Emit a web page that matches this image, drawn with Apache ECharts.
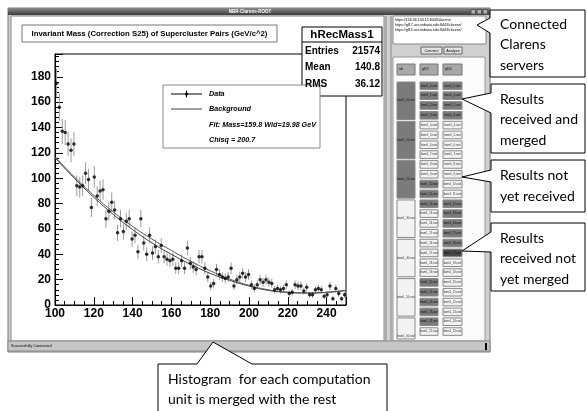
<!DOCTYPE html>
<html>
<head>
<meta charset="utf-8">
<title>NBR-Clarens-ROOT</title>
<script src="https://cdn.jsdelivr.net/npm/echarts@6/dist/echarts.min.js"></script>
<style>
html, body { margin: 0; padding: 0; background: #fff; }
#main { width: 587px; height: 411px; }
</style>
</head>
<body>
<div id="main"></div>
<script>
/************* hRecMass1 **************/

// histogram: 100 bins of 1.5 GeV from 100 to 250
var binStart = 100;
var binWidth = 1.5;
var counts = [
    175, 156, 137, 136, 127, 122, 127, 94, 93, 94,
    104, 99, 77, 101, 86, 90, 91, 68, 74, 81,
    75, 57, 68, 58, 66, 68, 52, 55, 42, 68,
    49, 40, 55, 41, 46, 38, 47, 38, 36, 35,
    36, 29, 29, 35, 29, 45, 33, 30, 28, 38,
    38, 29, 22, 15, 17, 28, 24, 22, 21, 22,
    29, 15, 20, 22, 25, 22, 24, 16, 13, 16,
    20, 18, 20, 18, 17, 12, 13, 12, 13, 16,
    9, 10, 16, 15, 15, 11, 14, 8, 8, 12,
    13, 12, 7, 8, 15, 5, 13, 9, 5, 8
];
var errScale = 0.85;   // bars drawn a bit shorter than sqrt(N)

// fit curves
var fitX          = [100, 110, 120, 130, 140, 150, 160, 170, 180, 190, 200, 210, 220, 230, 240, 250];
var fitTotal      = [117, 101, 86.5, 73.5, 62, 52, 43, 34.5, 27, 20.5, 15.5, 12, 10, 9.5, 10, 11.5];
var fitBackground = [116, 100, 85, 71.5, 59.5, 49, 40, 32, 25, 19.5, 15, 11.5, 10, 9.5, 10, 11.5];

var histTitle = 'Invariant Mass (Correction S25) of Supercluster Pairs (GeV/c^2)';
var statsName = 'hRecMass1';
var statsRows = [['Entries', '21574'], ['Mean', '140.8'], ['RMS', '36.12']];
var legendRows = ['Data', 'Background', 'Fit: Mass=159.8 Wid=19.98 GeV', 'Chisq = 200.7'];

// right panel
var serverUrls = [
    'https://156.56.104.15:8443/clarens/',
    'https://gf17.ucs.indiana.edu:8443/clarens/',
    'https://gf15.ucs.indiana.edu:8443/clarens/'
];
var colHeaders = ['rdr', 'gf17', 'gf15'];
var unitState = ['D', 'D', 'D', 'L', 'L', 'L', 'L'];
var gf17State = ['D','D','D','D','L','L','L','L','L','L','D','D','D','L','L','L','L','L','L','L','D','D','D','D','D','L'];
var gf15State = ['D','D','D','D','L','L','L','L','L','L','L','L','D','D','D','D','D','X','L','L','L','L','L','L','L','L'];

var histData = counts.map(function (c, i) {
    return [binStart + binWidth * (i + 0.5), c];
});

var FONT = 'Liberation Sans';
var CALLOUT_FONT = 'Lato';
var stateFill = { D: '#7b7b7b', L: '#f3f3f3', X: '#4a4a4a' };

var g = [];

function rect(x, y, w, h, fill, stroke, z) {
    g.push({ type: 'rect', z: z || 0, shape: { x: x, y: y, width: w, height: h },
        style: { fill: fill, stroke: stroke || null, lineWidth: 1 } });
}
function text(x, y, s, size, opt) {
    opt = opt || {};
    g.push({ type: 'text', z: opt.z || 10, x: x, y: y,
        style: { text: s, fontSize: size, fontFamily: opt.font || FONT, fontWeight: opt.weight || 'normal',
            fontStyle: opt.style || 'normal', fill: opt.color || '#000',
            align: opt.align || 'left', verticalAlign: 'middle' } });
}
function line(x1, y1, x2, y2, color, z) {
    g.push({ type: 'line', z: z || 10, shape: { x1: x1, y1: y1, x2: x2, y2: y2 },
        style: { stroke: color || '#000', lineWidth: 1 } });
}
function callout(points, rows, tx, ty0, dy) {
    g.push({ type: 'polygon', z: 20, shape: { points: points },
        style: { fill: '#fff', stroke: '#000', lineWidth: 1 } });
    rows.forEach(function (r, i) {
        text(tx, ty0 + i * dy, r, 14, { font: CALLOUT_FONT, z: 21 });
    });
}

// window
rect(8, 8, 482, 344, '#d0d0d0', '#777', -20);
g.push({ type: 'rect', z: -19, shape: { x: 8, y: 8, width: 482, height: 7 },
    style: { fill: new echarts.graphic.LinearGradient(0, 0, 0, 1, [
        { offset: 0, color: '#8a8a8a' }, { offset: 1, color: '#3c3c3c' }]) } });
text(250, 11.5, 'NBR-Clarens-ROOT', 4.5, { color: '#fff', weight: 'bold', align: 'center', z: -18 });
[471, 477, 483].forEach(function (x) { rect(x, 9.5, 4.5, 4.5, '#b0b0b0', '#555', -18); });

// ROOT canvas
rect(11, 16, 373, 325, '#fff', '#888', -18);
rect(22, 25, 255, 17, '#fff', '#777', 5);
text(149.5, 33.5, histTitle, 7.8, { weight: 'bold', align: 'center' });

// stats box
rect(302, 27, 80, 69, '#fff', '#000', 5);
line(302, 42, 382, 42, '#000');
text(342, 34.5, statsName, 11.5, { weight: 'bold', align: 'center' });
statsRows.forEach(function (r, i) {
    text(305, 51 + i * 16.5, r[0], 10, { weight: 'bold' });
    text(380, 51 + i * 16.5, r[1], 10, { weight: 'bold', align: 'right' });
});

// legend box
rect(163, 85, 157, 63, '#fff', '#888', 5);
line(171, 94, 202, 94, '#000');
line(186.5, 90.5, 186.5, 97.5, '#000');
g.push({ type: 'circle', z: 11, shape: { cx: 186.5, cy: 94, r: 1.5 }, style: { fill: '#000' } });
line(171, 109, 202, 109, '#444');
legendRows.forEach(function (r, i) {
    text(209, 94 + i * 15.3, r, 7.2, { weight: 'bold', style: 'italic' });
});

// right panel
line(386, 16, 386, 341, '#8a8a8a', -17);
line(391, 16, 391, 341, '#8a8a8a', -17);
rect(393, 16, 93, 28, '#fff', '#888', -17);
serverUrls.forEach(function (u, i) { text(395, 20 + i * 5, u, 3.6, { z: -16 }); });
rect(421, 47, 21, 7, '#e4e4e4', '#666', -17);
text(431.5, 50.5, 'Connect', 3.8, { align: 'center', z: -16 });
rect(444, 47, 18, 7, '#e4e4e4', '#666', -17);
text(453, 50.5, 'Analyze', 3.8, { align: 'center', z: -16 });
rect(393, 57, 92, 284, '#fbfbfb', '#999', -17);

var colX = [397, 420, 443];
var colW = [18, 18, 19];
colHeaders.forEach(function (h, i) {
    rect(colX[i], 64, colW[i], 11, '#a8a8a8', '#777', -16);
    text(colX[i] + 2, 69.5, h, 3.5, { z: -15 });
});
var rowStep = 9.83, rowTop = 82, panelBottom = 339;
unitState.forEach(function (s, k) {
    var y = rowTop + k * rowStep * 4;
    var h = Math.min(37.5, panelBottom - y);
    rect(colX[0], y, colW[0], h, stateFill[s], '#888', -16);
    if (h > 20) text(colX[0] + colW[0] / 2, y + 18.5, 'bwm1_' + k + '0.root', 2.8,
        { align: 'center', color: s === 'L' ? '#333' : '#111', z: -15 });
});
[gf17State, gf15State].forEach(function (arr, c) {
    arr.forEach(function (s, r) {
        var y = rowTop + r * rowStep;
        if (y + 7.6 > panelBottom) return;
        rect(colX[c + 1], y, colW[c + 1], 7.6, stateFill[s], '#888', -16);
        text(colX[c + 1] + colW[c + 1] / 2, y + 3.8, 'bwm1_' + r + '.root', 2.8,
            { align: 'center', color: s === 'L' ? '#333' : '#111', z: -15 });
    });
});

// status bar
rect(8, 341, 482, 10, '#c6c6c6', '#888', -16);
text(11, 346, 'Successfully Connected', 3.8, { z: -15 });
rect(485, 343, 2, 7, '#000', null, -15);

// callouts
callout([[490, 10], [585, 10], [585, 77], [490, 77], [490, 33], [477, 25], [490, 18]],
    ['Connected', 'Clarens', 'servers'], 500, 24, 20.5);
callout([[491, 84], [585, 84], [585, 153], [491, 153], [491, 113], [462, 99], [491, 93]],
    ['Results', 'received and', 'merged'], 500, 99, 20.5);
callout([[491, 160], [585, 160], [585, 212], [491, 212], [491, 182], [462, 177], [491, 170]],
    ['Results not', 'yet received'], 500, 175, 21);
callout([[491, 223], [585, 223], [585, 291], [491, 291], [491, 252], [462, 251], [491, 232]],
    ['Results', 'received not', 'yet merged'], 500, 238, 20.5);
callout([[158, 364], [197, 364], [213, 342], [252, 364], [387, 364], [387, 415], [158, 415]],
    ['Histogram  for each computation', 'unit is merged with the rest'], 168, 379, 20);

var chart = echarts.init(document.getElementById('main'));

var option = {
    animation: false,
    backgroundColor: '#fff',
    grid: {
        left: 55, top: 54, width: 291, height: 251,
        show: true, borderColor: '#000', borderWidth: 1, backgroundColor: 'transparent'
    },
    xAxis: {
        type: 'value', min: 100, max: 250, interval: 20,
        axisLine: { show: true, lineStyle: { color: '#000', width: 1 } },
        axisTick: { show: true, inside: true, length: 8, lineStyle: { color: '#000' } },
        minorTick: { show: true, splitNumber: 4, length: 4, lineStyle: { color: '#000' } },
        splitLine: { show: false },
        axisLabel: { color: '#000', fontFamily: FONT, fontWeight: 'bold', fontSize: 12, margin: 3, showMaxLabel: false }
    },
    yAxis: {
        type: 'value', min: 0, max: 198, interval: 20,
        axisLine: { show: true, lineStyle: { color: '#000', width: 1 } },
        axisTick: { show: true, inside: true, length: 8, lineStyle: { color: '#000' } },
        minorTick: { show: true, splitNumber: 5, length: 4, lineStyle: { color: '#000' } },
        splitLine: { show: false },
        axisLabel: { color: '#000', fontFamily: FONT, fontWeight: 'bold', fontSize: 12, margin: 4, showMaxLabel: false }
    },
    graphic: g,
    series: [
        {
            name: 'errors',
            type: 'custom',
            clip: true,
            data: histData,
            renderItem: function (params, api) {
                var x = api.value(0), v = api.value(1), e = Math.sqrt(v) * errScale;
                var p1 = api.coord([x, v + e]), p2 = api.coord([x, Math.max(v - e, 0)]);
                return { type: 'line', shape: { x1: p1[0], y1: p1[1], x2: p2[0], y2: p2[1] },
                    style: { stroke: '#9c9c9c', lineWidth: 1 } };
            },
            z: 3
        },
        {
            name: 'Background',
            type: 'line',
            smooth: true,
            symbol: 'none',
            data: fitX.map(function (x, i) { return [x, fitBackground[i]]; }),
            lineStyle: { color: '#3a3a3a', width: 1 },
            z: 4
        },
        {
            name: 'Fit',
            type: 'line',
            smooth: true,
            symbol: 'none',
            data: fitX.map(function (x, i) { return [x, fitTotal[i]]; }),
            lineStyle: { color: '#555', width: 1 },
            z: 4
        },
        {
            name: 'Data',
            type: 'scatter',
            symbol: 'circle',
            symbolSize: 3.5,
            data: histData,
            itemStyle: { color: '#000' },
            z: 5
        }
    ]
};
chart.setOption(option);
</script>
</body>
</html>
